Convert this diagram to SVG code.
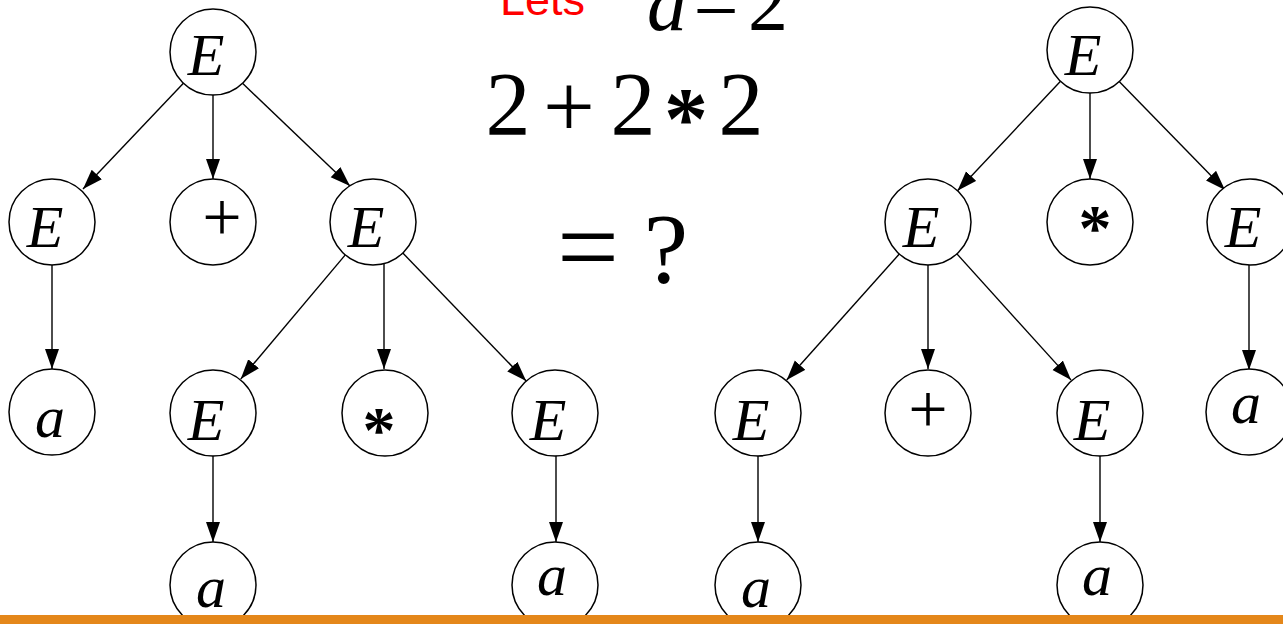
<svg xmlns="http://www.w3.org/2000/svg" width="1283" height="624" viewBox="0 0 1283 624">
<style>
.n{fill:#fff;stroke:#000;stroke-width:1.5}
.E{font-family:"Liberation Serif","Times New Roman",serif;font-style:italic;font-size:60px;text-anchor:middle;fill:#000}
.op{font-family:"Liberation Serif","Times New Roman",serif;font-size:70px;text-anchor:middle;fill:#000}
.st{font-family:"Liberation Serif","Times New Roman",serif;font-weight:bold;font-size:66px;text-anchor:middle;fill:#000}
.m{font-family:"Liberation Serif","Times New Roman",serif;text-anchor:middle;fill:#000}
.c line{stroke:#000;stroke-width:1.4;marker-end:url(#ah)}
</style>
<defs>
<marker id="ah" markerUnits="userSpaceOnUse" markerWidth="22" markerHeight="16" refX="20" refY="7" orient="auto">
<path d="M0,0 L20,7 L0,14 z" fill="#000"/>
</marker>
</defs>
<rect width="1283" height="624" fill="#fff"/>
<g id="title">
<text x="500" y="15" font-family="Liberation Sans,Arial,sans-serif" font-size="44" fill="#ff0000" textLength="85" lengthAdjust="spacingAndGlyphs">Lets</text>
<text class="m" x="667" y="30" font-size="80" font-style="italic">a</text>
<text class="m" x="716" y="30" font-size="80">=</text>
<text class="m" x="768" y="30" font-size="80">2</text>
</g>
<g id="expr">
<text class="m" x="508" y="135" font-size="90">2</text>
<text class="m" x="569" y="137" font-size="92">+</text>
<text class="m" x="633" y="135" font-size="90">2</text>
<text class="m" x="686" y="148" font-size="88" font-weight="bold">*</text>
<text class="m" x="741" y="135" font-size="90">2</text>
</g>
<g id="result">
<text class="m" x="588" y="284" font-size="110">=</text>
<text class="m" x="666" y="282" font-size="100">?</text>
</g>
<g class="c" id="connectors">
<line x1="183.4" y1="83.2" x2="83" y2="189"/>
<line x1="213" y1="95" x2="213" y2="179"/>
<line x1="242.5" y1="83.3" x2="350" y2="186"/>
<line x1="52" y1="265" x2="52" y2="369"/>
<line x1="345.3" y1="254.9" x2="240.7" y2="379.1"/>
<line x1="384" y1="264" x2="384" y2="369"/>
<line x1="402.8" y1="253" x2="526.2" y2="381"/>
<line x1="213" y1="455" x2="213" y2="542"/>
<line x1="556" y1="455" x2="556" y2="542"/>
<line x1="1060.5" y1="81.3" x2="957.5" y2="190.7"/>
<line x1="1090" y1="93" x2="1090" y2="179"/>
<line x1="1119.2" y1="81.6" x2="1225" y2="190"/>
<line x1="899.3" y1="254" x2="786.7" y2="380"/>
<line x1="928" y1="265" x2="928" y2="369"/>
<line x1="956.9" y1="253.9" x2="1071.1" y2="380.1"/>
<line x1="1249" y1="265" x2="1249" y2="370"/>
<line x1="758" y1="455" x2="758" y2="542"/>
<line x1="1100" y1="455" x2="1100" y2="542"/>
</g>
<g id="L_root"><circle class="n" cx="213" cy="52" r="43"/><text class="E" x="206" y="75">E</text></g>
<g id="L_E1"><circle class="n" cx="52" cy="222" r="43"/><text class="E" x="45" y="247">E</text></g>
<g id="L_plus"><circle class="n" cx="213" cy="222" r="43"/><text class="op" x="222" y="241">+</text></g>
<g id="L_E2"><circle class="n" cx="373" cy="222" r="43"/><text class="E" x="366" y="247">E</text></g>
<g id="L_a1"><circle class="n" cx="52" cy="412" r="43"/><text class="E" x="50" y="437">a</text></g>
<g id="L_E3"><circle class="n" cx="213" cy="413" r="43"/><text class="E" x="206" y="440">E</text></g>
<g id="L_star"><circle class="n" cx="385" cy="413" r="43"/><text class="st" x="379" y="452">*</text></g>
<g id="L_E4"><circle class="n" cx="555" cy="413" r="43"/><text class="E" x="548" y="440">E</text></g>
<g id="L_a2"><circle class="n" cx="213" cy="585" r="43"/><text class="E" x="211" y="607">a</text></g>
<g id="L_a3"><circle class="n" cx="555" cy="585" r="43"/><text class="E" x="552" y="595">a</text></g>
<g id="R_root"><circle class="n" cx="1090" cy="50" r="43"/><text class="E" x="1083" y="75">E</text></g>
<g id="R_E1"><circle class="n" cx="928" cy="222" r="43"/><text class="E" x="921" y="247">E</text></g>
<g id="R_star"><circle class="n" cx="1090" cy="222" r="43"/><text class="st" x="1095" y="250">*</text></g>
<g id="R_E2"><circle class="n" cx="1250" cy="222" r="43"/><text class="E" x="1243" y="247">E</text></g>
<g id="R_E3"><circle class="n" cx="758" cy="413" r="43"/><text class="E" x="751" y="440">E</text></g>
<g id="R_plus"><circle class="n" cx="928" cy="413" r="43"/><text class="op" x="928" y="433">+</text></g>
<g id="R_E4"><circle class="n" cx="1100" cy="413" r="43"/><text class="E" x="1092" y="440">E</text></g>
<g id="R_a1"><circle class="n" cx="1249" cy="412" r="43"/><text class="E" x="1246" y="423">a</text></g>
<g id="R_a2"><circle class="n" cx="758" cy="585" r="43"/><text class="E" x="756" y="607">a</text></g>
<g id="R_a3"><circle class="n" cx="1100" cy="585" r="43"/><text class="E" x="1097" y="595">a</text></g>
<rect id="bar" x="0" y="615" width="1283" height="9" fill="#e4871a"/>
</svg>
